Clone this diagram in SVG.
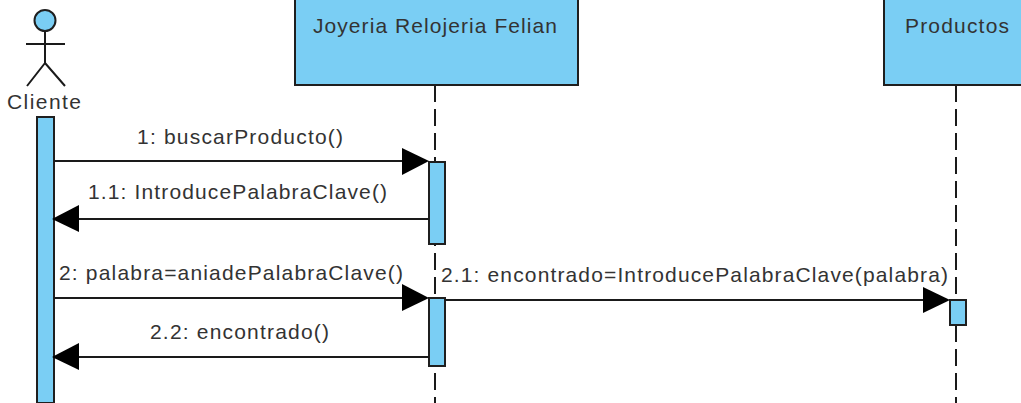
<svg xmlns="http://www.w3.org/2000/svg" width="1021" height="403" viewBox="0 0 1021 403">
<style>
.box{fill:#7acef4;stroke:#1f1f1f;stroke-width:2}
.ln{fill:none;stroke:#1a1a1a;stroke-width:2}
.ll{fill:none;stroke:#1a1a1a;stroke-width:2;stroke-dasharray:17 7}
.ar{fill:#000;stroke:none}
text{font-family:"Liberation Sans",Arial,sans-serif;font-size:21px;fill:#333;text-anchor:middle}
</style>
<rect width="1021" height="403" fill="#fff"/>
<g id="lifelines">
<line class="ll" x1="435" y1="85" x2="435" y2="403"/>
<line class="ll" x1="956" y1="85" x2="956" y2="403"/>
</g>
<g id="cliente">
<circle class="box" cx="45" cy="20.5" r="10.5"/>
<path class="ln" d="M45 31V63M26 44H65M45 63L27 86M45 63L65 86"/>
<text x="44" y="109" textLength="74" lengthAdjust="spacing">Cliente</text>
<rect class="box" x="37" y="117" width="17" height="286"/>
</g>
<g id="joyeria">
<rect class="box" x="295" y="-2" width="283" height="87"/>
<text x="435" y="33" textLength="244" lengthAdjust="spacing">Joyeria Relojeria Felian</text>
<rect class="box" x="429" y="162" width="16" height="82"/>
<rect class="box" x="429" y="298" width="16" height="68"/>
</g>
<g id="productos">
<rect class="box" x="884" y="-2" width="145" height="87"/>
<text x="957" y="33" textLength="104" lengthAdjust="spacing">Productos</text>
<rect class="box" x="950" y="300" width="16" height="25"/>
</g>
<g id="connectors">
<line class="ln" x1="54" y1="161" x2="405" y2="161"/>
<polygon class="ar" points="402,148 429,161 402,175"/>
<line class="ln" x1="429" y1="219" x2="78" y2="219"/>
<polygon class="ar" points="79,205 52,219 79,232"/>
<line class="ln" x1="54" y1="298" x2="405" y2="298"/>
<polygon class="ar" points="402,284 429,298 402,311"/>
<line class="ln" x1="445" y1="300" x2="926" y2="300"/>
<polygon class="ar" points="923,287 950,300 923,313"/>
<line class="ln" x1="429" y1="357" x2="78" y2="357"/>
<polygon class="ar" points="79,343 52,357 79,370"/>
</g>
<g id="labels">
<text x="240" y="144" textLength="206" lengthAdjust="spacing">1: buscarProducto()</text>
<text x="237.500" y="199" textLength="299" lengthAdjust="spacing">1.1: IntroducePalabraClave()</text>
<text x="231" y="280" textLength="344" lengthAdjust="spacing">2: palabra=aniadePalabraClave()</text>
<text x="694.500" y="282" textLength="507" lengthAdjust="spacing">2.1: encontrado=IntroducePalabraClave(palabra)</text>
<text x="239.500" y="339" textLength="179" lengthAdjust="spacing">2.2: encontrado()</text>
</g>
</svg>
